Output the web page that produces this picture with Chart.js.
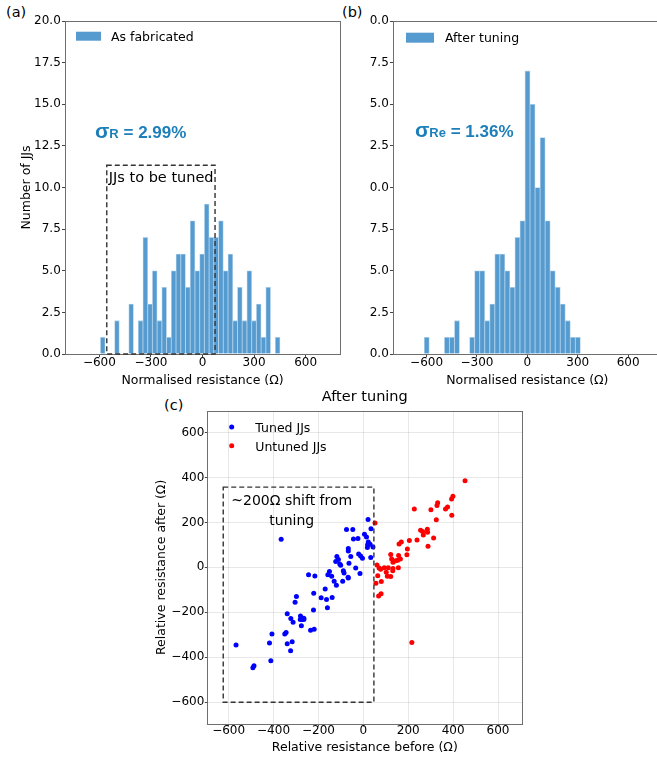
<!DOCTYPE html>
<html>
<head>
<meta charset="utf-8">
<script src="https://cdn.jsdelivr.net/npm/chart.js@4.4.1/dist/chart.umd.min.js"></script>
<style>
  html, body { margin: 0; padding: 0; background: #fff; overflow: hidden; }
  body { width: 657px; height: 762px; position: relative; }
  canvas { position: absolute; }
  .panel-tag { position: absolute; font: 14.5px "DejaVu Sans", sans-serif; line-height: 1; color: #000; white-space: nowrap; }
</style>
</head>
<body>
<div class="panel-tag" style="left:6px;top:5px">(a)</div>
<div class="panel-tag" style="left:342px;top:5px">(b)</div>
<div class="panel-tag" style="left:164px;top:398px">(c)</div>

<canvas id="histBefore" width="345" height="395" style="left:0;top:0"></canvas>
<canvas id="histAfter" width="330" height="395" style="left:345px;top:0"></canvas>
<canvas id="scatterTuning" width="390" height="377" style="left:150px;top:385px"></canvas>

<script>
// ---- histogram (a): as fabricated, 38 bins ----
const beforeBinStart = -594;
const beforeBinWidth = 27.5;
const beforeCounts = [1, 0, 0, 2, 0, 0, 3, 0, 2, 7, 3, 5, 2, 4, 1, 5, 6, 6, 4, 8,
                      5, 6, 9, 7, 7, 8, 5, 6, 2, 4, 2, 5, 2, 3, 1, 4, 0, 1];

// ---- histogram (b): after tuning, 31 bins ----
const afterBinStart = -614;
const afterBinWidth = 30;
const afterCounts = [1, 0, 0, 0, 1, 1, 2, 0, 0, 1, 5, 5, 2, 3, 6, 6, 5, 4, 7, 8,
                     17, 15, 10, 13, 8, 5, 4, 3, 2, 1, 1];

const histXTicks = [-600, -300, 0, 300, 600];
const histYTicks = [0, 2.5, 5, 7.5, 10, 12.5, 15, 17.5, 20];

// ---- scatter (c): resistance before vs after ----
const tunedBefore = [21, -75, -47, 5, 14, 34, -24, -44, 22, 19, 30, 18, 43, -67, -67, -21, -12, -4, -56, -118,
                     -111, -123, -105, -101, -64, 33, -34, -15, -89, -86, -151, -158, -141, -68, -244, -216, -366,
                     -130, -120, -92, -67, -170, -221, -188, -164, -139, -160, -298, -304, -222, -339, -323, -313,
                     -280, -275, -265, -281, -265, -273, -276, -235, -219, -407, -344, -350, -418, -339, -317,
                     -324, -412, -487, -492, -567];
const tunedAfter = [213, 168, 168, 147, 135, 172, 128, 126, 113, 101, 103, 88, 91, 84, 73, 59, 51, 41, 48, 48,
                    35, 26, 15, 9, 18, 44, -3, -27, -15, -25, -19, -33, -40, -44, -33, -38, 125,
                    -62, -80, -62, -47, -96, -115, -135, -143, -134, -180, -130, -155, -190, -206, -228, -244,
                    -216, -225, -226, -232, -232, -232, -260, -280, -275, -297, -290, -296, -337, -340, -331,
                    -371, -416, -438, -447, -346];
const untunedBefore = [453, 399, 393, 331, 328, 375, 366, 227, 301, 394, 325, 52, 255, 264, 285, 286, 267, 313,
                       239, 205, 169, 159, 288, 196, 122, 194, 157, 126, 165, 153, 144, 132, 61, 70, 77, 93,
                       111, 132, 131, 156, 102, 64, 107, 122, 80, 56, 79, 68, 216];
const untunedAfter = [385, 316, 304, 287, 275, 269, 260, 260, 256, 232, 212, 197, 165, 159, 169, 156, 144, 131,
                      122, 119, 113, 104, 94, 82, 57, 56, 53, 37, 37, 32, 29, 23, 10, -3, -8, -2,
                      -2, -5, -15, -2, -22, -37, -40, -41, -63, -71, -118, -128, -334];
const scatterTicks = [-600, -400, -200, 0, 200, 400, 600];

// highlighted windows
const tuneWindowHist = { xMin: -557, xMax: 73, yMin: 0, yMax: 11.34 };
const tuneWindowScatter = { xMin: -624, xMax: 47, yMin: -600, yMax: 357 };

const FONT = '"DejaVu Sans", sans-serif';
const BOLD = '"Liberation Sans", Arial, sans-serif';
const BAR_FILL = 'rgb(86,155,208)';
const BAR_EDGE = 'rgba(170,205,232,0.9)';
const SIGMA_COLOR = '#1c7fb9';
const FRAME = '#6f6f6f';

Chart.defaults.font.family = FONT;
Chart.defaults.color = '#000';

const minus = (s) => String(s).replace('-', '\u2212');

function drawFrame(chart) {
    const { ctx, chartArea: a } = chart;
    ctx.save();
    ctx.strokeStyle = FRAME;
    ctx.lineWidth = 1;
    ctx.strokeRect(Math.round(a.left) + 0.5, Math.round(a.top) + 0.5,
        Math.round(a.right - a.left), Math.round(a.bottom - a.top));
    ctx.restore();
}

function dashedBox(chart, box) {
    const { ctx, scales } = chart;
    const x0 = scales.x.getPixelForValue(box.xMin);
    const x1 = scales.x.getPixelForValue(box.xMax);
    const y0 = scales.y.getPixelForValue(box.yMax);
    const y1 = scales.y.getPixelForValue(box.yMin);
    ctx.save();
    ctx.strokeStyle = '#333';
    ctx.lineWidth = 1.4;
    ctx.setLineDash([5, 3]);
    ctx.strokeRect(x0, y0, x1 - x0, y1 - y0);
    ctx.restore();
    return { x0, x1, y0, y1 };
}

function drawSigma(ctx, x, y, sub, rest) {
    ctx.save();
    ctx.fillStyle = SIGMA_COLOR;
    ctx.textAlign = 'left';
    ctx.textBaseline = 'alphabetic';
    ctx.font = 'bold 21px ' + BOLD;
    ctx.fillText('\u03c3', x, y);
    let w = ctx.measureText('\u03c3').width;
    ctx.font = 'bold 13px ' + BOLD;
    ctx.fillText(sub, x + w, y);
    w += ctx.measureText(sub).width;
    ctx.font = 'bold 17px ' + BOLD;
    ctx.fillText(rest, x + w, y);
    ctx.restore();
}

function histDecor(cfg) {
    return {
        id: 'histDecor',
        afterDraw(chart) {
            const { ctx, chartArea: a } = chart;
            drawFrame(chart);

            // legend patch + label
            ctx.save();
            ctx.fillStyle = BAR_FILL;
            ctx.fillRect(a.left + cfg.legend.dx, a.top + cfg.legend.dy, cfg.legend.w, cfg.legend.h);
            ctx.fillStyle = '#000';
            ctx.font = '12.5px ' + FONT;
            ctx.textBaseline = 'alphabetic';
            ctx.fillText(cfg.legend.text, a.left + cfg.legend.tx, a.top + cfg.legend.ty);
            ctx.restore();

            drawSigma(ctx, a.left + cfg.sigma.dx, a.top + cfg.sigma.dy, cfg.sigma.sub, cfg.sigma.rest);

            if (cfg.box) {
                const r = dashedBox(chart, cfg.box);
                ctx.save();
                ctx.fillStyle = '#000';
                ctx.font = '14.5px ' + FONT;
                ctx.textBaseline = 'alphabetic';
                ctx.fillText('JJs to be tuned', r.x0 + 2, r.y0 + 17);
                ctx.restore();
            }
        },
    };
}

function histConfig(cfg) {
    const data = cfg.counts.map((c, i) => ({ x: cfg.binStart + (i + 0.5) * cfg.binWidth, y: c }));
    return {
        type: 'bar',
        data: {
            datasets: [{
                data,
                backgroundColor: BAR_FILL,
                borderColor: BAR_EDGE,
                borderWidth: 0.8,
                borderSkipped: 'start',
                barPercentage: 1,
                categoryPercentage: 1,
            }],
        },
        options: {
            responsive: false,
            animation: false,
            layout: { padding: { left: 0, top: 21, right: cfg.padRight, bottom: 0 } },
            plugins: { legend: { display: false }, tooltip: { enabled: false } },
            scales: {
                x: {
                    type: 'linear',
                    offset: false,
                    min: -800,
                    max: 800,
                    afterBuildTicks: (s) => { s.ticks = histXTicks.map((v) => ({ value: v })); },
                    afterFit: (s) => { s.height = 41; },
                    border: { display: false },
                    grid: { offset: false, drawOnChartArea: false, drawTicks: true, tickLength: 3, tickColor: '#444' },
                    ticks: { font: { size: 12 }, padding: -1.2, maxRotation: 0, callback: (v) => minus(v) },
                    title: { display: true, text: 'Normalised resistance (\u03a9)', font: { size: 12.5 }, padding: { top: 0, bottom: 6.5 } },
                },
                y: {
                    min: 0,
                    max: 20,
                    afterBuildTicks: (s) => { s.ticks = histYTicks.map((v) => ({ value: v })); },
                    afterFit: (s) => { s.width = cfg.yWidth; },
                    border: { display: false },
                    grid: { drawOnChartArea: false, drawTicks: true, tickLength: 3, tickColor: '#444' },
                    ticks: { font: { size: 12 }, padding: 1.2, callback: cfg.yLabel },
                    title: cfg.yTitle
                        ? { display: true, text: cfg.yTitle, font: { size: 12.5 }, padding: { top: 19.5, bottom: 0 } }
                        : { display: false },
                },
            },
        },
        plugins: [histDecor(cfg)],
    };
}

new Chart(document.getElementById('histBefore'), histConfig({
    counts: beforeCounts,
    binStart: beforeBinStart,
    binWidth: beforeBinWidth,
    padRight: 5,
    yWidth: 65,
    yTitle: 'Number of JJs',
    yLabel: (v) => Number(v).toFixed(1),
    legend: { text: 'As fabricated', dx: 11, dy: 10.7, w: 25, h: 9, tx: 46, ty: 19.7 },
    sigma: { dx: 30, dy: 116.5, sub: 'R', rest: ' = 2.99%' },
    box: tuneWindowHist,
}));

new Chart(document.getElementById('histAfter'), histConfig({
    counts: afterCounts,
    binStart: afterBinStart,
    binWidth: afterBinWidth,
    padRight: 13.3,
    yWidth: 48,
    yTitle: null,
    // tick labels lose their leading digit on this panel
    yLabel: (v) => (Number(v) % 10).toFixed(1),
    legend: { text: 'After tuning', dx: 13, dy: 11.7, w: 28, h: 10, tx: 52, ty: 21.3 },
    sigma: { dx: 22, dy: 116, sub: 'Re', rest: ' = 1.36%' },
    box: null,
}));

// ---- scatter panel ----
const tunedPoints = tunedBefore.map((x, i) => ({ x, y: tunedAfter[i] }));
const untunedPoints = untunedBefore.map((x, i) => ({ x, y: untunedAfter[i] }));

const scatterDecor = {
    id: 'scatterDecor',
    afterDraw(chart) {
        const { ctx, chartArea: a } = chart;
        drawFrame(chart);

        ctx.save();
        ctx.fillStyle = '#000';
        ctx.font = '14.5px ' + FONT;
        ctx.textAlign = 'center';
        ctx.textBaseline = 'middle';
        ctx.fillText('After tuning', (a.left + a.right) / 2, a.top - 13.7);

        // legend
        const items = [['Tuned JJs', '#0000ff', 16.3, 21.6], ['Untuned JJs', '#ff0000', 35, 40.3]];
        ctx.textAlign = 'left';
        ctx.textBaseline = 'alphabetic';
        ctx.font = '12.5px ' + FONT;
        items.forEach(([label, color, dy, ty]) => {
            ctx.fillStyle = color;
            ctx.beginPath();
            ctx.arc(a.left + 24.4, a.top + dy, 2.5, 0, Math.PI * 2);
            ctx.fill();
            ctx.fillStyle = '#000';
            ctx.fillText(label, a.left + 48, a.top + ty);
        });
        ctx.restore();

        const r = dashedBox(chart, tuneWindowScatter);
        ctx.save();
        ctx.fillStyle = '#000';
        ctx.font = '14px ' + FONT;
        ctx.textAlign = 'center';
        ctx.textBaseline = 'alphabetic';
        ctx.fillText('~200\u03a9 shift from', r.x0 + 68.5, r.y0 + 18);
        ctx.fillText('tuning', r.x0 + 68.5, r.y0 + 38);
        ctx.restore();
    },
};

function scatterAxis(range, size, title, titlePad) {
    return {
        type: 'linear',
        min: range[0],
        max: range[1],
        afterBuildTicks: (s) => { s.ticks = scatterTicks.map((v) => ({ value: v })); },
        afterFit: (s) => { if (s.isHorizontal()) s.height = size; else s.width = size; },
        border: { display: false },
        grid: { color: 'rgba(0,0,0,0.09)', drawTicks: true, tickLength: 2.5, tickColor: '#444' },
        ticks: { font: { size: 12 }, padding: size > 40 ? 0.5 : -2.7, maxRotation: 0, callback: (v) => minus(v) },
        title: { display: true, text: title, font: { size: 12.5 }, padding: titlePad },
    };
}

new Chart(document.getElementById('scatterTuning'), {
    type: 'scatter',
    data: {
        datasets: [
            { label: 'Tuned JJs', data: tunedPoints, backgroundColor: '#0000ff', borderWidth: 0, pointRadius: 2.5 },
            { label: 'Untuned JJs', data: untunedPoints, backgroundColor: '#ff0000', borderWidth: 0, pointRadius: 2.5 },
        ],
    },
    options: {
        responsive: false,
        animation: false,
        layout: { padding: { left: 0, top: 25.7, right: 17.7, bottom: 0 } },
        plugins: { legend: { display: false }, tooltip: { enabled: false } },
        scales: {
            x: scatterAxis([-695, 708], 38, 'Relative resistance before (\u03a9)', { top: 0, bottom: 7.2 }),
            y: scatterAxis([-697, 697], 57.3, 'Relative resistance after (\u03a9)', { top: 4.5, bottom: 0 }),
        },
    },
    plugins: [scatterDecor],
});
</script>
</body>
</html>
